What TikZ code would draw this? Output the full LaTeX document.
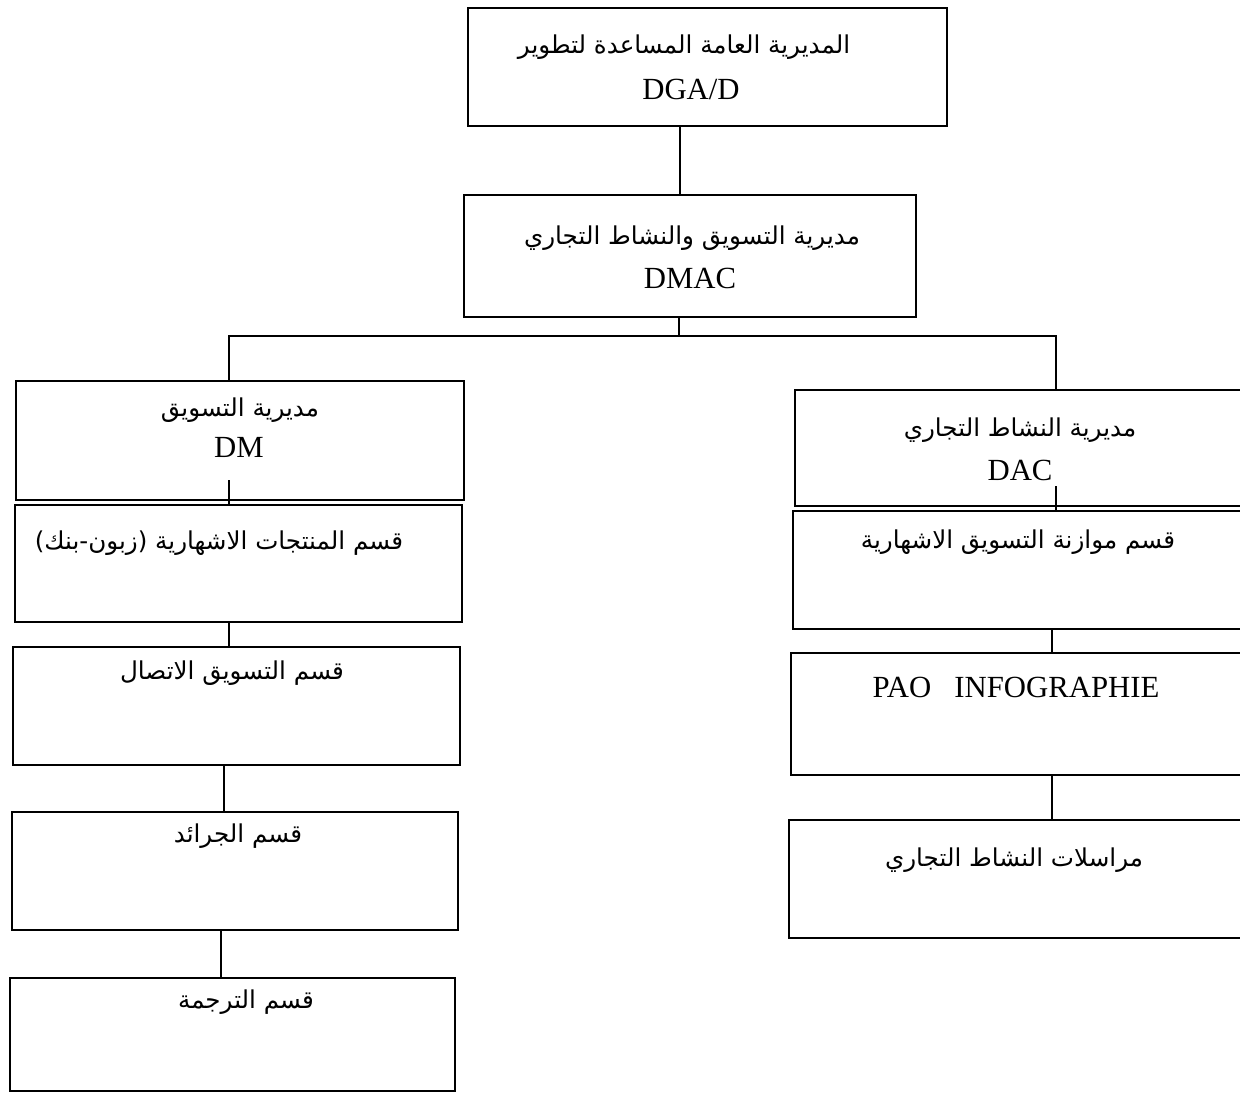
\documentclass[tikz,border=0pt]{standalone}
\usepackage{fontspec}
\setmainfont{Liberation Serif}
\newfontfamily\arabicfont[Script=Arabic]{DejaVu Sans}
\TeXXeTstate=1
\usetikzlibrary{fit}
\begin{document}
\begin{tikzpicture}[x=0.02cm,y=-0.02cm,
  box/.style={draw, line width=0.8pt, inner sep=0pt, rectangle},
  ar/.style={font=\arabicfont\fontsize{14}{16}\selectfont, inner sep=0pt},
  lat/.style={font=\fontsize{17.5}{19}\selectfont, inner sep=0pt},
  link/.style={line width=0.7pt}]
\useasboundingbox (0,0) rectangle (1240,1094);
\fill[white] (0,0) rectangle (1240,1094);

% boxes
\node[box, fit={(468,8) (947,126)}] (dga) {};
\node[box, fit={(464,195) (916,317)}] (dmac) {};
\node[box, fit={(16,381) (464,500)}] (dm) {};
\node[box, fit={(15,505) (462,622)}] (pub) {};
\node[box, fit={(13,647) (460,765)}] (com) {};
\node[box, fit={(12,812) (458,930)}] (jour) {};
\node[box, fit={(10,978) (455,1091)}] (trad) {};
\node[box, fit={(795,390) (1262,506)}] (dac) {};
\node[box, fit={(793,511) (1262,629)}] (bud) {};
\node[box, fit={(791,653) (1262,775)}] (pao) {};
\node[box, fit={(789,820) (1262,938)}] (cor) {};

% labels
\node[ar]  (dgaA)  at (684,47)  {\beginR المديرية العامة المساعدة لتطوير\endR};
\node[lat] (dgaL)  at (691,89)  {DGA/D};
\node[ar]  (dmacA) at (692,238) {\beginR مديرية التسويق والنشاط التجاري\endR};
\node[lat] (dmacL) at (690,278) {DMAC};
\node[ar]  (dmA)   at (240,410) {\beginR مديرية التسويق\endR};
\node[lat] (dmL)   at (239,447) {DM};
\node[ar]  (pubA)  at (219,543) {\beginR قسم المنتجات الاشهارية (زبون-بنك)\endR};
\node[ar]  (comA)  at (232,673) {\beginR قسم التسويق الاتصال\endR};
\node[ar]  (jourA) at (238,836) {\beginR قسم الجرائد\endR};
\node[ar]  (tradA) at (246,1002) {\beginR قسم الترجمة\endR};
\node[ar]  (dacA)  at (1020,430) {\beginR مديرية النشاط التجاري\endR};
\node[lat] (dacL)  at (1020,470) {DAC};
\node[ar]  (budA)  at (1018,542) {\beginR قسم موازنة التسويق الاشهارية\endR};
\node[lat] (paoL)  at (1016,687) {PAO\hspace{0.75em}INFOGRAPHIE};
\node[ar]  (corA)  at (1014,860) {\beginR مراسلات النشاط التجاري\endR};

% connector positions
\coordinate (c0) at (680,0);
\coordinate (bar) at (679,336);
\coordinate (barL) at (229,336);
\coordinate (barR) at (1056,336);
\coordinate (dmTail) at (229,480);
\coordinate (dacTail) at (1056,486);
\coordinate (cL1) at (229,0);
\coordinate (cL2) at (224,0);
\coordinate (cL3) at (221,0);
\coordinate (cR1) at (1052,0);

% connectors
\draw[link] (dga.south -| c0) -- (dmac.north -| c0);
\draw[link] (dmac.south -| bar) -- (bar);
\draw[link] (dm.north -| barL) -- (barL) -- (barR) -- (dac.north -| barR);
\draw[link] (dmTail) -- (pub.north -| dmTail);
\draw[link] (pub.south -| cL1) -- (com.north -| cL1);
\draw[link] (com.south -| cL2) -- (jour.north -| cL2);
\draw[link] (jour.south -| cL3) -- (trad.north -| cL3);
\draw[link] (dacTail) -- (bud.north -| dacTail);
\draw[link] (bud.south -| cR1) -- (pao.north -| cR1);
\draw[link] (pao.south -| cR1) -- (cor.north -| cR1);
\end{tikzpicture}
\end{document}
